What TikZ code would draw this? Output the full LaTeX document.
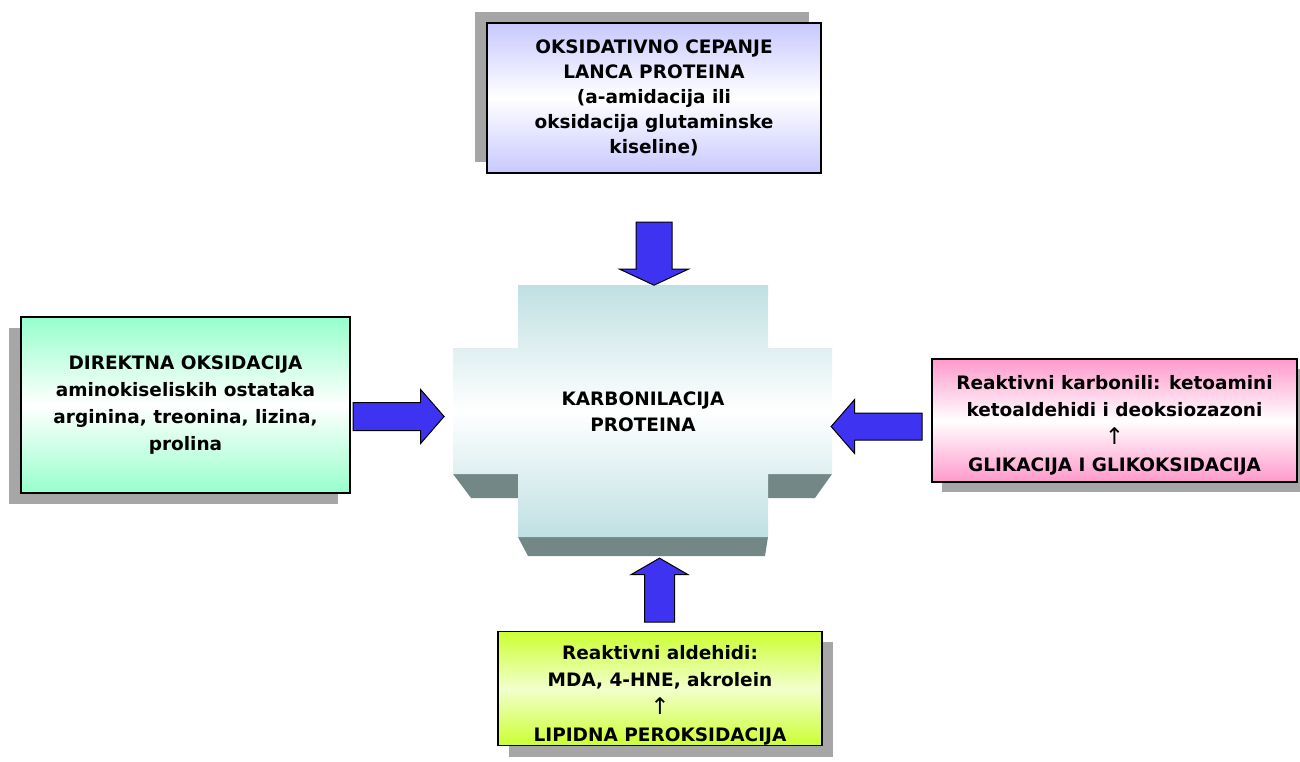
\documentclass[tikz,border=0pt]{standalone}
\usepackage{fontspec}
\setmainfont{DejaVu Sans}
\usetikzlibrary{shapes.arrows,shadows}

\definecolor{lavender}{RGB}{200,200,255}
\definecolor{mint}{RGB}{150,255,204}
\definecolor{rose}{RGB}{255,153,204}
\definecolor{lime}{RGB}{204,255,51}
\definecolor{paleteal}{RGB}{191,224,227}
\definecolor{wallgray}{RGB}{115,135,135}
\definecolor{arrblue}{RGB}{61,51,240}

\newcommand{\uparr}{{\mdseries\fontsize{23}{27.5}\selectfont ↑}}

\begin{document}
\begin{tikzpicture}[x=1pt, y=-1pt,
  box/.style={draw=black, line width=1.5pt, align=center, inner sep=0pt,
              font=\fontsize{18.5}{25}\selectfont\bfseries},
  tint/.style={top color=#1, bottom color=#1, middle color=white},
  boxshadow/.style 2 args={drop shadow={shadow xshift=#1, shadow yshift=#2,
              fill=black!35, opacity=1}},
  blockarrow/.style={single arrow, draw=black, line width=1pt, fill=arrblue,
              inner xsep=0pt, minimum width=0pt},
]
\useasboundingbox (0,0) rectangle (1300,762);

% central cross with its lower walls
\fill[wallgray] (453,474) -- (518,474) -- (518,498) -- (471,498) -- cycle;
\fill[wallgray] (768,474) -- (832,474) -- (815,498) -- (768,498) -- cycle;
\fill[wallgray] (518,537) -- (768,537) -- (765,556) -- (528,556) -- cycle;
\shade[top color=paleteal, bottom color=paleteal, middle color=white]
  (518,285) -- (768,285) -- (768,348) -- (832,348) -- (832,474) -- (768,474)
  -- (768,537) -- (518,537) -- (518,474) -- (453,474) -- (453,348) -- (518,348) -- cycle;
\node[font=\fontsize{18.5}{26}\selectfont\bfseries, align=center] (carbon) at (643,412)
  {KARBONILACIJA\\PROTEINA};

\node[box, tint=lavender, boxshadow={-12pt}{11pt}, minimum width=334, minimum height=150]
  (cleave) at (654,98)
  {OKSIDATIVNO CEPANJE\\LANCA PROTEINA\\(a-amidacija ili\\oksidacija glutaminske\\kiseline)};
\node[box, tint=mint, boxshadow={-12pt}{-11pt}, minimum width=329, minimum height=176,
  font=\fontsize{18.5}{27}\selectfont\bfseries]
  (direct) at (185.5,405)
  {DIREKTNA OKSIDACIJA\\aminokiseliskih ostataka\\arginina, treonina, lizina,\\prolina};
\node[box, tint=rose, boxshadow={10pt}{-10pt}, minimum width=365, minimum height=123,
  font=\fontsize{18.5}{27.5}\selectfont\bfseries]
  (glyc) at (1114.5,420.5)
  {\rule{0pt}{24pt}Reaktivni karbonili: ketoamini\\ketoaldehidi i deoksiozazoni\\\uparr\\GLIKACIJA I GLIKOKSIDACIJA};
\node[box, top color=lime, bottom color=lime, middle color=lime!25!white,
  boxshadow={11pt}{-11pt}, minimum width=324, minimum height=113,
  font=\fontsize{18.5}{27.5}\selectfont\bfseries]
  (lipid) at (660,688.5)
  {\rule{0pt}{28pt}Reaktivni aldehidi:\\MDA, 4-HNE, akrolein\\\uparr\\LIPIDNA PEROKSIDACIJA};

\node[blockarrow, rotate=-90, minimum height=63, inner ysep=17.5,
  single arrow head extend=16.5, single arrow tip angle=130] (arrtop) at (654,249.5) {};
\node[blockarrow, minimum height=91, inner ysep=13.5,
  single arrow head extend=13, single arrow tip angle=98] (arrleft) at (392.5,416.5) {};
\node[blockarrow, rotate=180, minimum height=91, inner ysep=13,
  single arrow head extend=13.5, single arrow tip angle=98] (arrright) at (882.5,426.5) {};
\node[blockarrow, rotate=90, minimum height=64, inner ysep=14.5,
  single arrow head extend=13.5, single arrow tip angle=120] (arrbottom) at (659.5,594.5) {};

\end{tikzpicture}
\end{document}
